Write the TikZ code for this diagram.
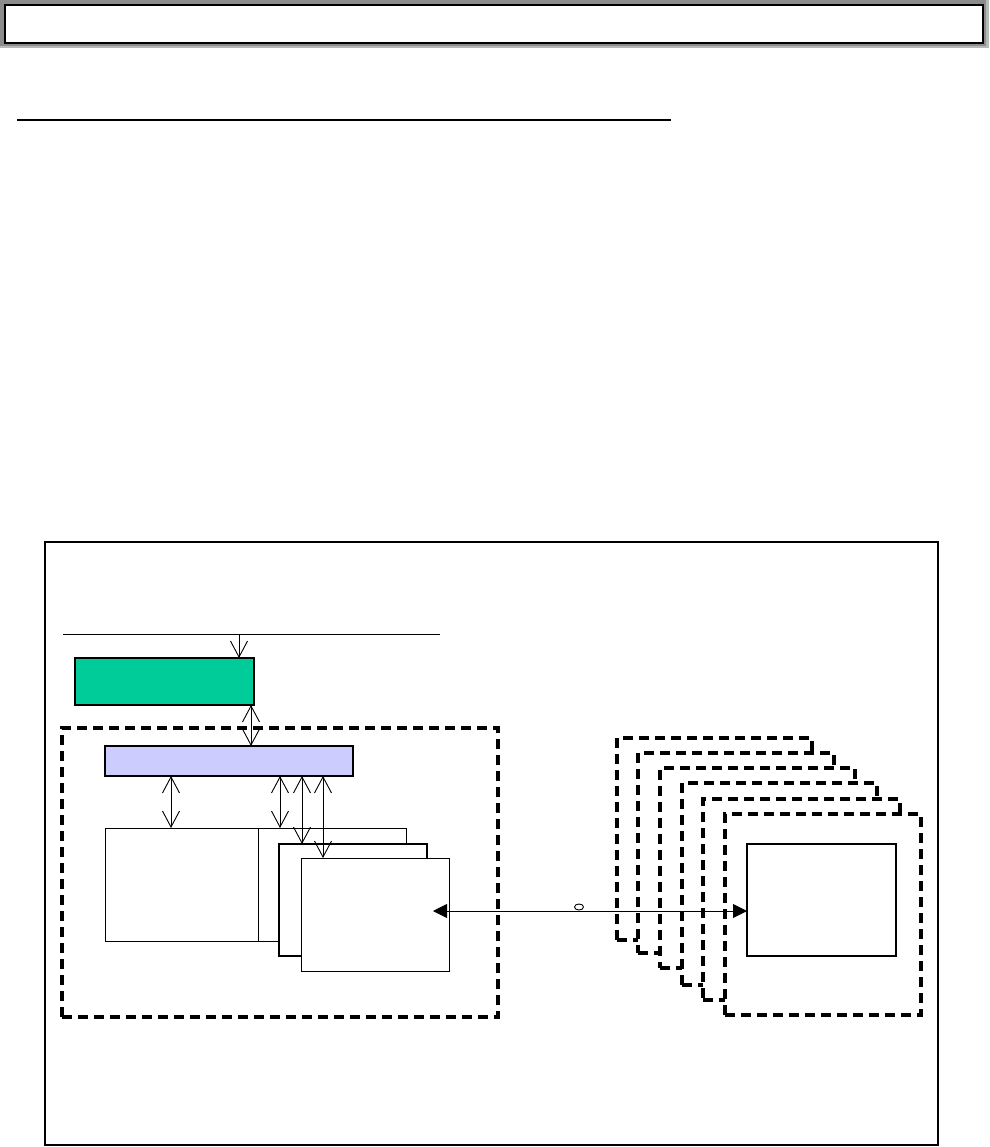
\documentclass[tikz,border=0pt]{standalone}
\usetikzlibrary{arrows.meta}
\definecolor{hdrlight}{HTML}{B8B8B8}
\definecolor{hdrdark}{HTML}{8C8C8C}
\definecolor{tealgreen}{HTML}{00CC99}
\definecolor{lavender}{HTML}{CCCCFF}
\begin{document}
\begin{tikzpicture}[x=1pt,y=-1pt,
  box/.style={draw, line width=0.9pt, fill=white, inner sep=0pt, outer sep=0pt, anchor=north west},
  thickbox/.style={box, line width=2pt},
  dbox/.style={draw, line width=3.2pt, dash pattern=on 10pt off 6pt, fill=white, inner sep=0pt, outer sep=0pt, anchor=north west},
  barb/.tip={Straight Barb[length=16pt,width=17pt,line width=0.9pt]},
  varrow/.style={line width=0.8pt, -barb},
  vdarrow/.style={line width=0.8pt, barb-barb},
  harrow/.style={line width=0.9pt, {Triangle[length=14pt,width=14pt]}-{Triangle[length=14pt,width=14pt]}}]
\useasboundingbox (0,0) rectangle (989,1147);
% header bar
\fill[hdrlight] (0,0) rectangle (989,48);
\fill[hdrdark] (0,0) rectangle (986,46);
\node[box, line width=2pt, minimum width=978pt, minimum height=38pt] (hdr) at (5,5) {};
% underline
\coordinate (ulL) at (17,120);
\coordinate (ulR) at (671,120);
\draw[line width=2pt] (ulL) -- (ulR);
% outer frame
\node[box, line width=2pt, minimum width=893pt, minimum height=603pt] (frame) at (45,542) {};
% bus line
\coordinate (busL) at (63,634);
\coordinate (busR) at (440,634);
\draw[line width=0.9pt] (busL) -- (busR);
% green box
\node[thickbox, fill=tealgreen, minimum width=179pt, minimum height=47pt] (green) at (75,658) {};
\draw[varrow] (busL -| 239,0) -- (green.north -| 239,0);
% left dashed container
\node[dbox, minimum width=436pt, minimum height=289pt] (left) at (62,728) {};
% blue bar
\node[box, line width=1.5pt, fill=lavender, minimum width=248pt, minimum height=30pt] (blue) at (105,746) {};
\draw[vdarrow] (green.south -| 251,0) -- (blue.north -| 251,0);
% stacked boxes
\node[box, minimum width=153pt, minimum height=113pt] (A) at (105,828) {};
\node[box, minimum width=148pt, minimum height=113pt] (B) at (258,828) {};
\node[thickbox, minimum width=148pt, minimum height=112pt] (C) at (279,844) {};
\node[box, minimum width=148pt, minimum height=113pt] (D) at (301,858) {};
\draw[vdarrow] (blue.south -| 171,0) -- (A.north -| 171,0);
\draw[vdarrow] (blue.south -| 280,0) -- (B.north -| 280,0);
\draw[vdarrow] (blue.south -| 302,0) -- (C.north -| 302,0);
\draw[vdarrow] (blue.south -| 323,0) -- (D.north -| 323,0);
% right stack of dashed boxes
\node[dbox, minimum width=195pt, minimum height=202pt] (r1) at (617,738) {};
\node[dbox, minimum width=196pt, minimum height=200pt] (r2) at (638,753) {};
\node[dbox, minimum width=195pt, minimum height=200pt] (r3) at (660,768) {};
\node[dbox, minimum width=195pt, minimum height=202pt] (r4) at (682,783) {};
\node[dbox, minimum width=197pt, minimum height=201pt] (r5) at (703,799) {};
\node[dbox, minimum width=196pt, minimum height=201pt] (r6) at (725,814) {};
\node[thickbox, minimum width=149pt, minimum height=112pt] (inner) at (747,844) {};
% link
\coordinate (pL) at (433,911);
\draw[harrow] (pL) -- (inner.west |- pL);
\draw[line width=0.9pt] (579,907) ellipse (4.5 and 3);
\end{tikzpicture}
\end{document}
